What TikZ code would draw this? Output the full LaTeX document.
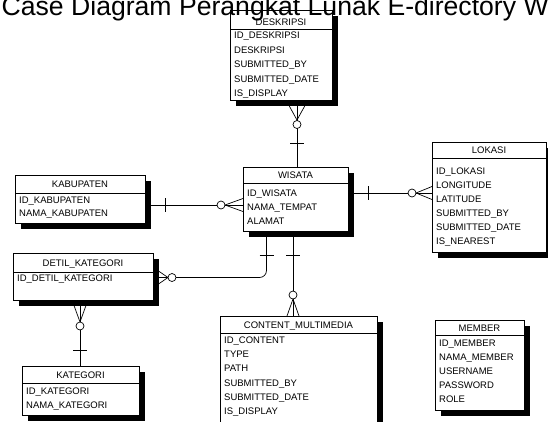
\documentclass[tikz,border=0pt]{standalone}
\usepackage{fontspec}
\setmainfont{Liberation Sans}
\usetikzlibrary{shadows}
\begin{document}
\begin{tikzpicture}[x=1pt,y=-1pt,
  tbl/.style={draw=black, line width=0.8pt, fill=white, inner sep=0pt, anchor=north west,
    drop shadow={shadow xshift=5.5pt, shadow yshift=-5.5pt, fill=black, opacity=1}},
  rule/.style={line width=0.7pt},
  hdr/.style={inner sep=0pt, anchor=center, text height=6.8pt, text depth=0pt, font=\fontsize{9.5}{11}\selectfont},
  row/.style={inner sep=0pt, anchor=west, text height=6.8pt, text depth=0pt, font=\fontsize{9.5}{11}\selectfont},
  conn/.style={line width=0.7pt},
  ring/.style={line width=0.7pt, fill=white}]
\useasboundingbox (0,0) rectangle (548,421);

% DESKRIPSI
\node[tbl, minimum width=102, minimum height=90] (desk) at (230,10) {};
\draw[rule] (230,29) -- (332,29);
\node[hdr] (desk-t) at (281,22) {DESKRIPSI};
\node[row] (desk-1) at (234,35.5) {ID\_DESKRIPSI};
\node[row] (desk-2) at (234,50) {DESKRIPSI};
\node[row] (desk-3) at (234,64.5) {SUBMITTED\_BY};
\node[row] (desk-4) at (234,79) {SUBMITTED\_DATE};
\node[row] (desk-5) at (234,93) {IS\_DISPLAY};

% WISATA
\node[tbl, minimum width=105, minimum height=64] (wis) at (243,167) {};
\draw[rule] (243,183) -- (348,183);
\node[hdr] (wis-t) at (295.5,175) {WISATA};
\node[row] (wis-1) at (247,193.5) {ID\_WISATA};
\node[row] (wis-2) at (247,207.5) {NAMA\_TEMPAT};
\node[row] (wis-3) at (247,221) {ALAMAT};

% KABUPATEN
\node[tbl, minimum width=130, minimum height=48] (kab) at (15,175) {};
\draw[rule] (15,193) -- (145,193);
\node[hdr] (kab-t) at (80,184) {KABUPATEN};
\node[row] (kab-1) at (19,200) {ID\_KABUPATEN};
\node[row] (kab-2) at (19,213.5) {NAMA\_KABUPATEN};

% LOKASI
\node[tbl, minimum width=114, minimum height=110] (lok) at (432,142) {};
\draw[rule] (432,158) -- (546,158);
\node[hdr] (lok-t) at (489,150) {LOKASI};
\node[row] (lok-1) at (436,171) {ID\_LOKASI};
\node[row] (lok-2) at (436,185) {LONGITUDE};
\node[row] (lok-3) at (436,199) {LATITUDE};
\node[row] (lok-4) at (436,213) {SUBMITTED\_BY};
\node[row] (lok-5) at (436,227) {SUBMITTED\_DATE};
\node[row] (lok-6) at (436,241) {IS\_NEAREST};

% DETIL_KATEGORI
\node[tbl, minimum width=140, minimum height=47] (det) at (13,253) {};
\draw[rule] (13,272) -- (153,272);
\node[hdr] (det-t) at (83,263) {DETIL\_KATEGORI};
\node[row] (det-1) at (17,278.5) {ID\_DETIL\_KATEGORI};

% KATEGORI
\node[tbl, minimum width=117, minimum height=49] (kat) at (22,366) {};
\draw[rule] (22,383) -- (139,383);
\node[hdr] (kat-t) at (80.5,375) {KATEGORI};
\node[row] (kat-1) at (26,391) {ID\_KATEGORI};
\node[row] (kat-2) at (26,405) {NAMA\_KATEGORI};

% CONTENT_MULTIMEDIA
\node[tbl, minimum width=157, minimum height=130] (cm) at (220,316) {};
\draw[rule] (220,333) -- (377,333);
\node[hdr] (cm-t) at (298.5,325) {CONTENT\_MULTIMEDIA};
\node[row] (cm-1) at (224,340.5) {ID\_CONTENT};
\node[row] (cm-2) at (224,354.5) {TYPE};
\node[row] (cm-3) at (224,368.5) {PATH};
\node[row] (cm-4) at (224,383) {SUBMITTED\_BY};
\node[row] (cm-5) at (224,397) {SUBMITTED\_DATE};
\node[row] (cm-6) at (224,411.5) {IS\_DISPLAY};

% MEMBER
\node[tbl, minimum width=89, minimum height=90] (mem) at (435,320) {};
\draw[rule] (435,335) -- (524,335);
\node[hdr] (mem-t) at (479.5,328) {MEMBER};
\node[row] (mem-1) at (439,343) {ID\_MEMBER};
\node[row] (mem-2) at (439,357) {NAMA\_MEMBER};
\node[row] (mem-3) at (439,371.5) {USERNAME};
\node[row] (mem-4) at (439,385.5) {PASSWORD};
\node[row] (mem-5) at (439,399) {ROLE};

% DESKRIPSI -- WISATA
\coordinate (dw-a) at (297,105.5);
\coordinate (dw-b) at (297,167);
\draw[conn] (dw-a) -- (dw-b);
\draw[conn] (289,105.5) -- (297,120) -- (305,105.5);
\draw[ring] (297,124.5) circle (4pt);
\draw[conn] (290,143) -- (304,143);

% KABUPATEN -- WISATA
\coordinate (kw-a) at (150.5,205);
\coordinate (kw-b) at (243,205);
\draw[conn] (kw-a) -- (kw-b);
\draw[conn] (165,198) -- (165,212);
\draw[conn] (243,198.5) -- (225,205) -- (243,211.5);
\draw[ring] (221,205) circle (4pt);

% WISATA -- LOKASI
\coordinate (wl-a) at (354,193);
\coordinate (wl-b) at (432,193);
\draw[conn] (wl-a) -- (wl-b);
\draw[conn] (368,186) -- (368,200);
\draw[conn] (432,186.5) -- (416,193) -- (432,199.5);
\draw[ring] (412,193) circle (4pt);

% WISATA -- DETIL_KATEGORI
\coordinate (wd-a) at (266.5,237);
\coordinate (wd-b) at (158.5,277.5);
\draw[conn, rounded corners=7pt] (wd-a) |- (wd-b);
\draw[conn] (259.5,255) -- (273.5,255);
\draw[conn] (158.5,271) -- (168,277.5) -- (158.5,284);
\draw[ring] (172,277.5) circle (4pt);

% WISATA -- CONTENT_MULTIMEDIA
\coordinate (wc-a) at (293,237);
\coordinate (wc-b) at (293,316);
\draw[conn] (wc-a) -- (wc-b);
\draw[conn] (286,255) -- (300,255);
\draw[conn] (287,316) -- (293,299) -- (299,316);
\draw[ring] (293,295) circle (4pt);

% DETIL_KATEGORI -- KATEGORI
\coordinate (dk-a) at (80,305.5);
\coordinate (dk-b) at (80,366);
\draw[conn] (dk-a) -- (dk-b);
\draw[conn] (74,305.5) -- (80,322) -- (86,305.5);
\draw[ring] (80,326) circle (4pt);
\draw[conn] (73,350) -- (87,350);

% title (drawn on top, as in the reference)
\node[anchor=base west, inner sep=0pt, font=\fontsize{26.6}{30}\selectfont] (title) at (1.5,15.5) {Case Diagram Perangkat Lunak E-directory W};
\end{tikzpicture}
\end{document}
